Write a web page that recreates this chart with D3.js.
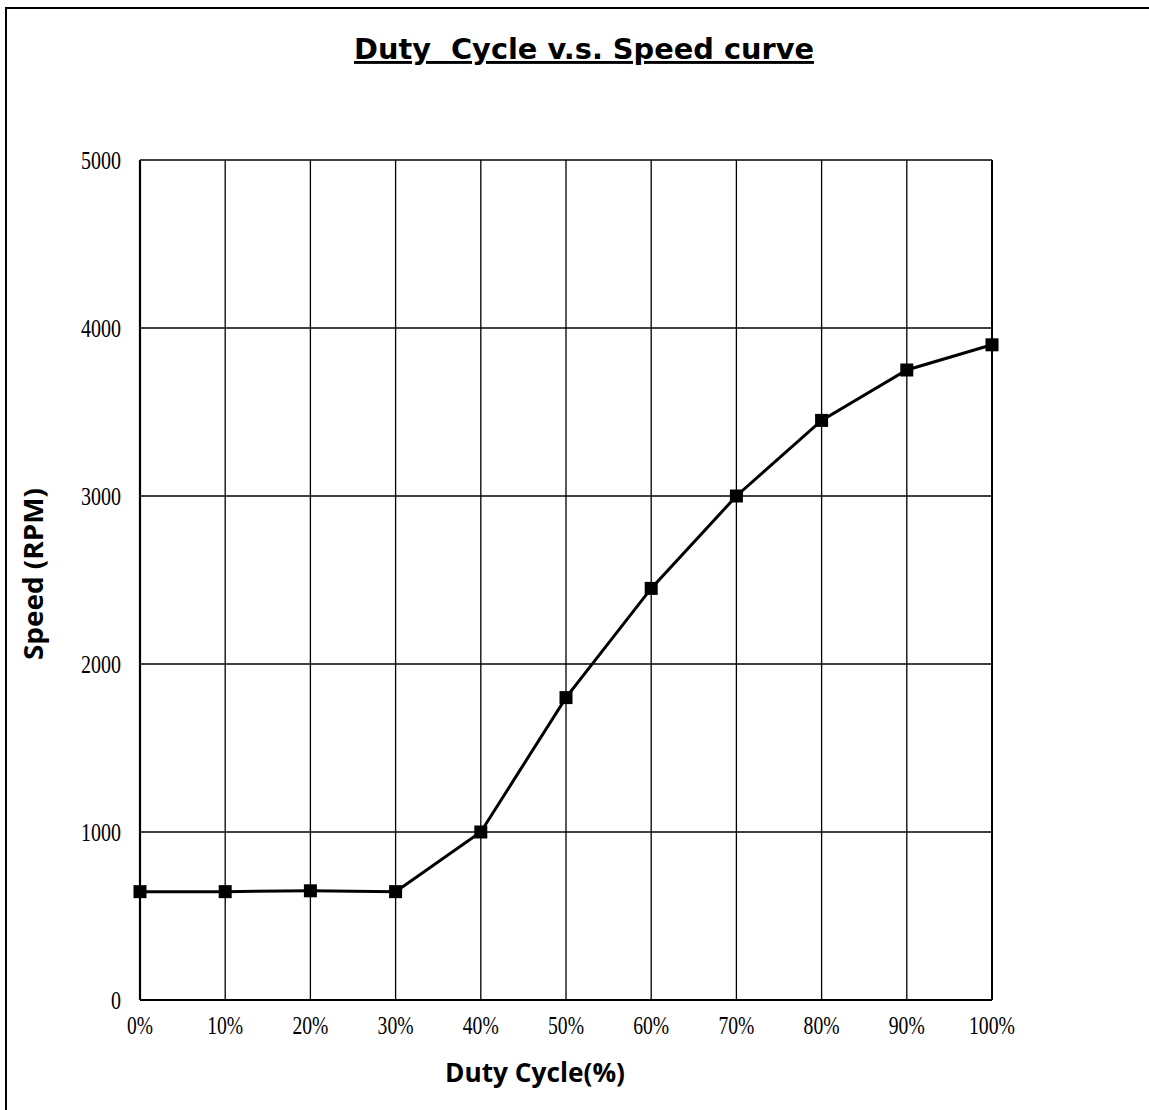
<!DOCTYPE html>
<html>
<head>
<meta charset="utf-8">
<script src="https://cdn.jsdelivr.net/npm/d3@7"></script>
<style>
  body { margin: 0; background: #fff; }
  svg { display: block; }
</style>
</head>
<body>
<figure style="margin:0"></figure>
<script>
(async () => {

  // data
  const dutyCycle = [0, 10, 20, 30, 40, 50, 60, 70, 80, 90, 100]
  const speedRPM = [645, 645, 650, 645, 1000, 1800, 2450, 3000, 3450, 3750, 3900]
  const yTicks = [0, 1000, 2000, 3000, 4000, 5000]

  const svgWidth = 1149
  const svgHeight = 1110
  const margin = { left: 140, right: 157, top: 160, bottom: 110 }
  const width = svgWidth - margin.left - margin.right
  const height = svgHeight - margin.top - margin.bottom

  const root = d3.select('figure')
    .append('svg')
    .attr('width', svgWidth)
    .attr('height', svgHeight)

  // outer frame (only top and left edges visible)
  root.append('path')
    .attr('d', `M6,${svgHeight + 5} L6,8 L${svgWidth + 5},8`)
    .attr('fill', 'none')
    .attr('stroke', '#000')
    .attr('stroke-width', 2)

  const svg = root.append('g')
    .attr('transform', `translate(${margin.left},${margin.top})`)

  // scales
  const x = d3.scaleLinear().domain([0, 100]).range([0, width])
  const y = d3.scaleLinear().domain([0, 5000]).range([height, 0])

  // grid
  svg.append('g')
    .selectAll('line')
    .data(yTicks)
    .enter().append('line')
    .attr('x1', 0).attr('x2', width)
    .attr('y1', d => y(d)).attr('y2', d => y(d))
    .attr('stroke', '#000').attr('stroke-width', 1.3)

  svg.append('g')
    .selectAll('line')
    .data(dutyCycle)
    .enter().append('line')
    .attr('y1', 0).attr('y2', height)
    .attr('x1', d => x(d)).attr('x2', d => x(d))
    .attr('stroke', '#000').attr('stroke-width', 1.3)

  // axes lines (thicker left and bottom)
  svg.append('line')
    .attr('x1', 0).attr('x2', 0).attr('y1', 0).attr('y2', height)
    .attr('stroke', '#000').attr('stroke-width', 2.2)
  svg.append('line')
    .attr('x1', 0).attr('x2', width).attr('y1', height).attr('y2', height)
    .attr('stroke', '#000').attr('stroke-width', 2.2)
  svg.append('line')
    .attr('x1', width).attr('x2', width).attr('y1', 0).attr('y2', height)
    .attr('stroke', '#000').attr('stroke-width', 2)

  // tick labels - narrow tall serif, width forced per glyph
  const labelLen = s => s.replace('%', '').length * 10 + (s.includes('%') ? 16 : 0)

  svg.append('g')
    .selectAll('text')
    .data(yTicks)
    .enter().append('text')
    .attr('x', -19)
    .attr('y', d => y(d) + 9)
    .attr('text-anchor', 'end')
    .style('font-family', "'Liberation Serif', serif")
    .style('font-size', '25px')
    .attr('textLength', d => labelLen(String(d)))
    .attr('lengthAdjust', 'spacingAndGlyphs')
    .text(d => d)

  svg.append('g')
    .selectAll('text')
    .data(dutyCycle)
    .enter().append('text')
    .attr('x', d => x(d) - labelLen(d + '%') / 2)
    .attr('y', height + 34)
    .style('font-family', "'Liberation Serif', serif")
    .style('font-size', '25px')
    .attr('textLength', d => labelLen(d + '%'))
    .attr('lengthAdjust', 'spacingAndGlyphs')
    .text(d => d + '%')

  // line + markers
  const pts = dutyCycle.map((d, i) => [d, speedRPM[i]])
  svg.append('path')
    .datum(pts)
    .attr('fill', 'none')
    .attr('stroke', '#000')
    .attr('stroke-width', 3)
    .attr('d', d3.line().x(d => x(d[0])).y(d => y(d[1])))

  svg.append('g')
    .selectAll('rect')
    .data(pts)
    .enter().append('rect')
    .attr('x', d => x(d[0]) - 6.5)
    .attr('y', d => y(d[1]) - 6.5)
    .attr('width', 13)
    .attr('height', 13)
    .attr('fill', '#000')

  // titles
  root.append('text')
    .attr('x', 354)
    .attr('y', 59)
    .style('font-family', "'DejaVu Sans', sans-serif")
    .style('font-weight', 'bold')
    .style('font-size', '29px')
    .style('text-decoration', 'underline')
    .style('white-space', 'pre')
    .attr('textLength', 460)
    .attr('lengthAdjust', 'spacingAndGlyphs')
    .text('Duty  Cycle v.s. Speed curve')

  root.append('text')
    .attr('x', 445)
    .attr('y', 1082)
    .style('font-family', "'Open Sans', sans-serif")
    .style('font-weight', 'bold')
    .style('font-size', '26px')
    .attr('textLength', 180)
    .attr('lengthAdjust', 'spacingAndGlyphs')
    .text('Duty Cycle(%)')

  root.append('text')
    .attr('transform', 'translate(43,660) rotate(-90)')
    .style('font-family', "'Open Sans', sans-serif")
    .style('font-weight', 'bold')
    .style('font-size', '26px')
    .attr('textLength', 172)
    .attr('lengthAdjust', 'spacingAndGlyphs')
    .text('Speed (RPM)')

})()
</script>
</body>
</html>
